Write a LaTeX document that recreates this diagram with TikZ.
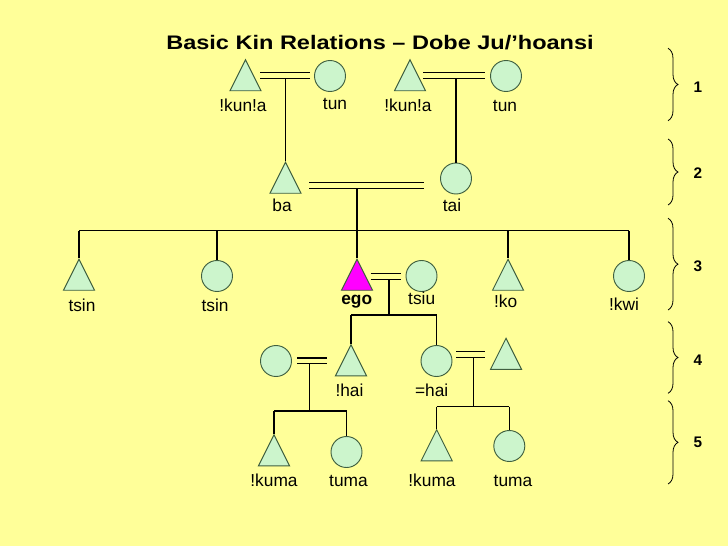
\documentclass[tikz,border=0pt]{standalone}
\usepackage{fontspec}
\setmainfont{Liberation Sans}
\usepackage{graphicx}
\usetikzlibrary{shapes.geometric,decorations.pathreplacing}
\definecolor{paper}{HTML}{FFFF99}
\definecolor{kinfill}{HTML}{CCF5CC}
\definecolor{kinline}{HTML}{3F5F3F}
\definecolor{egofill}{HTML}{FF00FF}
\tikzset{
  person/.style={draw=kinline,line width=0.7pt,fill=kinfill,inner sep=0pt},
  male/.style={person,isosceles triangle,isosceles triangle stretches,
    shape border rotate=90,minimum width=23.25pt,minimum height=23.25pt,yshift=-3.9pt},
  female/.style={person,circle,minimum size=23.25pt},
  kinname/.style={anchor=base,inner sep=0pt,font=\fontsize{13}{15}\selectfont},
  gennum/.style={anchor=base,inner sep=0pt,font=\fontsize{11.5}{13}\selectfont\bfseries},
  genbrace/.style={decorate,decoration={brace,amplitude=7.5pt},line width=0.6pt},
}
% two marriage lines: x from, x to, y of the upper line
\newcommand{\wed}[3]{\draw (#1,#3) -- (#2,#3) (#1,#3+5.8) -- (#2,#3+5.8);}

\begin{document}
\begin{tikzpicture}[x=0.75pt,y=-0.75pt,line width=0.9pt]
  \fill[paper] (0,0) rectangle (728,546);
  \useasboundingbox (0,0) rectangle (728,546);
  \node[anchor=base,inner sep=0pt] (title) at (380,49.3)
    {\scalebox{1.2}[1]{\fontsize{14.7}{17}\selectfont\bfseries Basic Kin Relations – Dobe Ju/’hoansi}};

  % generation 1
  \node[male]   (ff) at (245.5,76) {};
  \node[female] (fm) at (330,76) {};
  \node[male]   (mf) at (410,76) {};
  \node[female] (mm) at (506,76) {};
  \wed{260}{310}{72.3}
  \wed{423}{485}{72.3}
  \coordinate (w1) at (285.5,78.1);
  \coordinate (w2) at (456,78.1);

  % generation 2
  \node[male]   (ba)  at (285.5,178.5) {};
  \node[female] (tai) at (456,178.5) {};
  \draw (w1) -- (ba.apex);
  \draw (w2) -- (tai.north);
  \wed{309}{424}{182.7}
  \coordinate (w3) at (357,188.5);
  \coordinate (sib) at (357,230.7);
  \draw (w3) -- (sib);

  % generation 3
  \node[male]                (tsinm) at (79,275.5) {};
  \node[female]              (tsinf) at (217,276) {};
  \node[male,fill=egofill]   (ego)   at (357,275.5) {};
  \node[female]              (tsiu)  at (421.5,276) {};
  \node[male]                (ko)    at (508,275.5) {};
  \node[female]              (kwi)   at (629,276) {};
  \draw (sib -| tsinm.apex) -- (sib -| kwi.north);
  \foreach \k/\a in {tsinm/apex,tsinf/north,ego/apex,ko/apex,kwi/north}
    \draw (sib -| \k.\a) -- (\k.\a);
  \wed{370.7}{400.7}{273.3}
  \coordinate (w4) at (389,279.1);
  \coordinate (kid4) at (389,315);
  \draw (w4) -- (kid4);

  % generation 4
  \node[female] (hw)   at (276,361) {};
  \node[male]   (hai)  at (351,361) {};
  \node[female] (shai) at (436.5,361) {};
  \node[male]   (sh)   at (506,354.5) {};
  \draw (kid4 -| hai.apex) -- (kid4 -| shai.north);
  \draw (kid4 -| hai.apex) -- (hai.apex);
  \draw (kid4 -| shai.north) -- (shai.north);
  \wed{297.3}{327.3}{357.9}
  \wed{456}{485}{351.8}
  \coordinate (w5) at (309.3,363.7);
  \coordinate (kid5) at (309.3,411);
  \coordinate (w6) at (473.3,357.6);
  \coordinate (kid6) at (473.3,406.7);
  \draw (w5) -- (kid5);
  \draw (w6) -- (kid6);

  % generation 5
  \node[male]   (kumaa) at (274,451) {};
  \node[female] (tumaa) at (346.5,452) {};
  \node[male]   (kumab) at (436.7,446) {};
  \node[female] (tumab) at (509.3,446) {};
  \draw (kid5 -| kumaa.apex) -- (kid5 -| tumaa.north);
  \draw (kid5 -| kumaa.apex) -- (kumaa.apex);
  \draw (kid5 -| tumaa.north) -- (tumaa.north);
  \draw (kid6 -| kumab.apex) -- (kid6 -| tumab.north);
  \draw (kid6 -| kumab.apex) -- (kumab.apex);
  \draw (kid6 -| tumab.north) -- (tumab.north);

  % names
  \node[kinname] (l-ff)   at (243,111.7)   {!kun!a};
  \node[kinname] (l-fm)   at (335,109.5)   {tun};
  \node[kinname] (l-mf)   at (408,111.7)   {!kun!a};
  \node[kinname] (l-mm)   at (505,111.7)   {tun};
  \node[kinname] (l-ba)   at (282,211)     {ba};
  \node[kinname] (l-tai)  at (452,211)     {tai};
  \node[kinname] (l-tsm)  at (82,311)      {tsin};
  \node[kinname] (l-tsf)  at (215,311)     {tsin};
  \node[kinname] (l-ego)  at (356.7,304.3) {\bfseries ego};
  \node[kinname] (l-tsiu) at (421.7,304.3) {tsiu};
  \node[kinname] (l-ko)   at (505.7,307.7) {!ko};
  \node[kinname] (l-kwi)  at (624,310)     {!kwi};
  \node[kinname] (l-hai)  at (349.5,396)   {!hai};
  \node[kinname] (l-shai) at (431.7,396)   {=hai};
  \node[kinname] (l-kua)  at (274,486.7)   {!kuma};
  \node[kinname] (l-tua)  at (348.5,486.7) {tuma};
  \node[kinname] (l-kub)  at (432,486.7)   {!kuma};
  \node[kinname] (l-tub)  at (513,486.7)   {tuma};

  % generations
  \foreach \t/\b/\n/\y in {48.3/120.7/1/92.7,139/205/2/178.3,218.3/310/3/271.7,
                           321.7/393.3/4/365,400.7/484/5/447.3} {
    \draw[genbrace] (668,\t) -- (668,\b);
    \node[gennum] (g\n) at (698,\y) {\n};
  }
\end{tikzpicture}
\end{document}
